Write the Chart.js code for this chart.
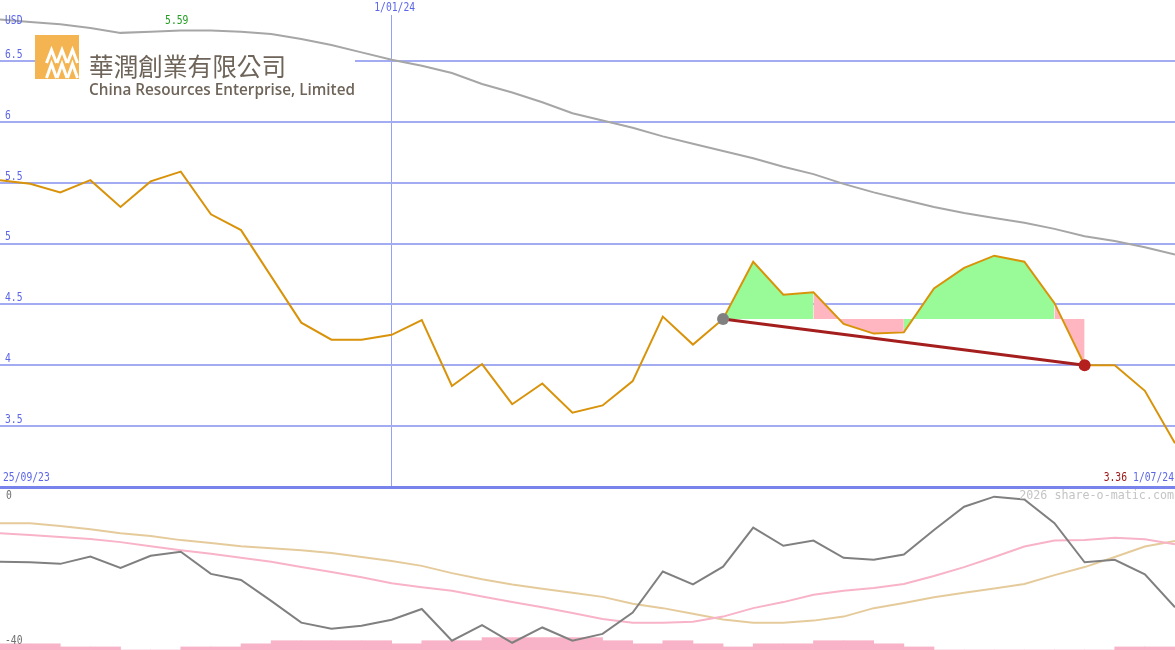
<!DOCTYPE html>
<html>
<head>
<meta charset="utf-8">
<script src="https://cdn.jsdelivr.net/npm/chart.js@4.4.1/dist/chart.umd.min.js"></script>
<style>
  body { margin: 0; background: #fff; }
  #wrap { position: relative; width: 1175px; height: 650px; overflow: hidden; }
  .box { position: absolute; left: 0; width: 1175px; }
</style>
</head>
<body>
<div id="wrap">
  <div class="box" style="top:0;height:489px"><canvas id="top"></canvas></div>
  <div class="box" style="top:489px;height:161px"><canvas id="bot"></canvas></div>
</div>
<script>
const weeks = ["25/09/23", "2/10/23", "9/10/23", "16/10/23", "23/10/23", "30/10/23", "6/11/23", "13/11/23",
  "20/11/23", "27/11/23", "4/12/23", "11/12/23", "18/12/23", "25/12/23", "1/01/24", "8/01/24", "15/01/24",
  "22/01/24", "29/01/24", "5/02/24", "12/02/24", "19/02/24", "26/02/24", "4/03/24", "11/03/24", "18/03/24",
  "25/03/24", "1/04/24", "8/04/24", "15/04/24", "22/04/24", "29/04/24", "6/05/24", "13/05/24", "20/05/24",
  "27/05/24", "3/06/24", "10/06/24", "17/06/24", "24/06/24"];

// weekly close, USD
const price = [5.52, 5.49, 5.42, 5.52, 5.30, 5.51, 5.59, 5.24, 5.11, 4.73,
  4.35, 4.21, 4.21, 4.25, 4.37, 3.83, 4.01, 3.68, 3.85, 3.61,
  3.67, 3.87, 4.40, 4.17, 4.38, 4.85, 4.58, 4.60, 4.34, 4.26,
  4.27, 4.63, 4.80, 4.90, 4.85, 4.51, 4.00, 4.00, 3.79, 3.36];

// long moving average (grey)
const longAvg = [6.84, 6.82, 6.80, 6.77, 6.73, 6.74, 6.75, 6.75, 6.74, 6.72,
  6.68, 6.63, 6.57, 6.51, 6.46, 6.40, 6.31, 6.24, 6.16, 6.07,
  6.01, 5.95, 5.88, 5.82, 5.76, 5.70, 5.63, 5.57, 5.49, 5.42,
  5.36, 5.30, 5.25, 5.21, 5.17, 5.12, 5.06, 5.02, 4.97, 4.91];

// pattern: start / end week, level, green (1) or pink (0) for each week in between
const patternStart = 24;
const patternEnd = 36;
const breakLevel = 4.38;
const segGain = [1, 1, 1, 0, 0, 0, 1, 1, 1, 1, 1, 0];

const yTicks = [3, 3.5, 4, 4.5, 5, 5.5, 6, 6.5];
const monthTicks = [13];
const monthLabels = ["1/01/24"];
const endLabel = "1/07/24";

// lower panel
const relPerf = [-18.1, -18.2, -18.6, -16.8, -19.6, -16.6, -15.6, -21.1, -22.6, -27.8,
  -33.2, -34.7, -34.0, -32.5, -29.8, -37.7, -33.8, -38.2, -34.4, -37.7,
  -36.0, -30.7, -20.5, -23.7, -19.3, -9.6, -14.1, -12.8, -17.1, -17.6,
  -16.3, -10.2, -4.4, -1.9, -2.6, -8.5, -18.2, -17.6, -21.2, -29.4];
const relFast = [-11.0, -11.4, -11.9, -12.4, -13.2, -14.2, -15.2, -16.1, -17.1, -18.1,
  -19.4, -20.6, -21.9, -23.4, -24.4, -25.3, -26.7, -28.1, -29.4, -30.8,
  -32.3, -33.2, -33.2, -33.0, -31.7, -29.6, -28.1, -26.3, -25.3, -24.6,
  -23.6, -21.6, -19.4, -16.9, -14.3, -12.8, -12.7, -12.1, -12.5, -13.7];
const relSlow = [-8.5, -8.5, -9.2, -10.0, -11.0, -11.7, -12.7, -13.4, -14.2, -14.7,
  -15.2, -15.9, -16.9, -17.9, -19.1, -20.9, -22.4, -23.7, -24.8, -25.8,
  -26.8, -28.5, -29.6, -31.0, -32.4, -33.2, -33.2, -32.7, -31.7, -29.6,
  -28.3, -26.9, -25.8, -24.7, -23.6, -21.4, -19.4, -16.9, -14.3, -12.9];
const volume = [2, 2, 1, 1, 0, 0, 1, 1, 2, 3,
  3, 3, 3, 2, 3, 3, 4, 4, 4, 4,
  3, 2, 3, 2, 1, 2, 2, 3, 3, 2,
  1, 0, 0, 0, 0, 0, 0, 1, 1, 0];
const lowTicks = [0, -40];

const mono = '"DejaVu Sans Mono", monospace';
const blue = "#5b66e8";
const green = "#98fb98";
const pink = "#ffb6c1";

const pts = arr => arr.map((v, i) => ({ x: i, y: v }));
const patternPts = price.slice(patternStart, patternEnd + 1).map((v, k) => ({ x: patternStart + k, y: v }));
const trendPts = [{ x: patternStart, y: breakLevel }, { x: patternEnd, y: price[patternEnd] }];

// narrow tall mono label, like the small pixel font of the original
function label(ctx, text, x, y) {
  ctx.fillText(text, x, y, text.length * 5.85);
}

const xAxis = {
  type: "linear", min: 0, max: 39, offset: false,
  afterBuildTicks: s => { s.ticks = monthTicks.map(v => ({ value: v })); },
  ticks: { display: false, padding: 0 },
  border: { display: false },
  grid: { color: "#97a1f4", lineWidth: 1, drawTicks: false },
};

const logoPlugin = {
  id: "logo",
  beforeDatasetsDraw(chart) {
    const ctx = chart.ctx;
    ctx.save();
    ctx.fillStyle = "#fff";
    ctx.fillRect(35, 35, 320, 66);
    ctx.fillStyle = "#f5b452";
    ctx.fillRect(35, 35, 44, 44);
    ctx.beginPath();
    ctx.rect(35, 35, 44, 44);
    ctx.clip();
    ctx.strokeStyle = "#fff";
    ctx.lineWidth = 3;
    for (const [t, b] of [[50, 63], [64, 78]]) {
      for (const cx of [51.5, 62, 72.5]) {
        ctx.beginPath();
        ctx.moveTo(cx - 5, b);
        ctx.lineTo(cx, t);
        ctx.lineTo(cx + 5, b);
        ctx.stroke();
      }
    }
    ctx.restore();
    ctx.save();
    ctx.fillStyle = "#6e6459";
    ctx.font = '25px "Noto Sans CJK TC"';
    ctx.textBaseline = "middle";
    ctx.fillText("華潤創業有限公司", 89, 66, 197);
    ctx.font = '600 15.5px "Open Sans"';
    ctx.textBaseline = "alphabetic";
    ctx.fillText("China Resources Enterprise, Limited", 89, 95, 266);
    ctx.restore();
  },
};

const topText = {
  id: "topText",
  afterDraw(chart) {
    const ctx = chart.ctx;
    const xs = chart.scales.x;
    const ys = chart.scales.y;
    ctx.save();
    ctx.font = "11.5px " + mono;
    ctx.textBaseline = "middle";
    ctx.fillStyle = blue;
    ctx.textAlign = "left";
    label(ctx, "USD", 5, 21);
    yTicks.filter(v => v !== 3).forEach(v => label(ctx, String(v), 5, ys.getPixelForValue(v) - 6));

    const maxV = Math.max(...price);
    ctx.fillStyle = "#23a023";
    ctx.textAlign = "center";
    label(ctx, maxV.toFixed(2), xs.getPixelForValue(price.indexOf(maxV)) - 4, 21);

    monthTicks.forEach((t, k) => {
      const px = xs.getPixelForValue(t) + 3;
      const w = monthLabels[k].length * 5.85;
      ctx.fillStyle = "#fff";
      ctx.fillRect(px - w / 2 - 1, 0, w + 2, 15);
      ctx.fillStyle = blue;
      label(ctx, monthLabels[k], px, 8);
    });

    const by = ys.getPixelForValue(3) - 9;
    ctx.textAlign = "left";
    label(ctx, weeks[0], 3, by);
    ctx.textAlign = "right";
    label(ctx, endLabel, 1174, by);
    const ew = endLabel.length * 5.85;
    ctx.fillStyle = "#a01818";
    label(ctx, price[price.length - 1].toFixed(2), 1174 - ew - 6, by);
    ctx.restore();
  },
};

const lowText = {
  id: "lowText",
  afterDraw(chart) {
    const ctx = chart.ctx;
    const ys = chart.scales.y;
    ctx.save();
    ctx.textBaseline = "middle";
    ctx.font = "11.5px " + mono;
    ctx.fillStyle = "#707070";
    ctx.textAlign = "left";
    label(ctx, String(lowTicks[0]), 6, ys.getPixelForValue(lowTicks[0]) + 7);
    label(ctx, String(lowTicks[1]), 5, ys.getPixelForValue(lowTicks[1]) - 9);
    ctx.font = "11.7px " + mono;
    ctx.fillStyle = "#c4c4c4";
    ctx.textAlign = "right";
    ctx.fillText("2026 share-o-matic.com", 1174, 7);
    ctx.restore();
  },
};

const common = {
  responsive: true,
  maintainAspectRatio: false,
  animation: false,
  events: [],
  layout: { padding: 0, autoPadding: false },
  plugins: { legend: { display: false }, tooltip: { enabled: false } },
};

new Chart(document.getElementById("top"), {
  type: "line",
  data: {
    datasets: [
      { data: pts(longAvg), borderColor: "#a6a6a6", borderWidth: 2, pointRadius: 0, order: 4 },
      {
        data: patternPts, borderColor: "rgba(0,0,0,0)", borderWidth: 0, pointRadius: 0,
        fill: { value: breakLevel }, backgroundColor: green,
        segment: { backgroundColor: c => (segGain[c.p0DataIndex] ? green : pink) },
        order: 3,
      },
      { data: pts(price), borderColor: "#d9930a", borderWidth: 2, pointRadius: 0, order: 2 },
      { data: trendPts, borderColor: "#a51e1e", borderWidth: 3, pointRadius: 0, order: 1 },
      {
        data: trendPts, showLine: false, pointRadius: 6, pointBorderWidth: 0,
        pointBackgroundColor: ["#808080", "#b3201e"], order: 0,
      },
    ],
  },
  options: {
    ...common,
    scales: {
      x: xAxis,
      y: {
        min: 2.9836, max: 7,
        afterBuildTicks: s => { s.ticks = yTicks.map(v => ({ value: v })); },
        border: { display: false },
        grid: {
          drawTicks: false,
          color: c => (c.tick && c.tick.value === 3 ? "#7884ec" : "#a3acf2"),
          lineWidth: c => (c.tick && c.tick.value === 3 ? 3 : 2),
        },
        ticks: { display: false, padding: 0 },
      },
    },
  },
  plugins: [logoPlugin, topText],
});

new Chart(document.getElementById("bot"), {
  type: "line",
  data: {
    datasets: [
      { data: pts(relPerf), borderColor: "#808080", borderWidth: 2, pointRadius: 0, order: 0 },
      { data: pts(relFast), borderColor: "#f8b3c8", borderWidth: 2, pointRadius: 0, order: 1 },
      { data: pts(relSlow), borderColor: "#e5cb9b", borderWidth: 2, pointRadius: 0, order: 2 },
      {
        type: "bar", data: volume.map((v, i) => ({ x: i + 0.5, y: v })), yAxisID: "yv",
        backgroundColor: "#f8b3c8", borderWidth: 0, barPercentage: 1, categoryPercentage: 1, order: 3,
      },
    ],
  },
  options: {
    ...common,
    scales: {
      x: xAxis,
      y: { min: -40, max: 0, display: false },
      yv: { min: 0, max: 52, display: false },
    },
  },
  plugins: [lowText],
});
</script>
</body>
</html>
